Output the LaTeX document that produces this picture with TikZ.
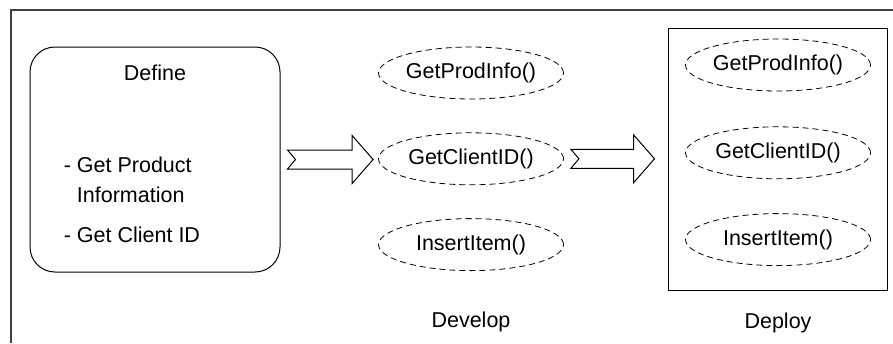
\documentclass[tikz,border=0pt]{standalone}
\usepackage{fontspec}
\setmainfont{Liberation Sans}
\usetikzlibrary{positioning,calc,shapes.geometric}

% hollow block arrow with a notched tail, from #1 to #2
\newcommand{\fatarrow}[2]{%
  \draw[fat] let \p1=(#1), \p2=(#2) in
    (\x1,\y1+9.5) -- (\x2-21,\y1+9.5) -- (\x2-21,\y1+24) -- (\x2,\y1)
    -- (\x2-21,\y1-24) -- (\x2-21,\y1-9.5) -- (\x1,\y1-9.5) -- (\x1+8,\y1) -- cycle;}

\begin{document}
\begin{tikzpicture}[
  x=1pt, y=-1pt,
  font=\fontsize{21.5}{30}\selectfont,
  line width=1pt,
  phase/.style={draw, rounded corners=25pt, minimum width=250pt, minimum height=225pt},
  func/.style={draw, ellipse, dash pattern=on 6pt off 4pt, line width=0.8pt,
               minimum width=185pt, minimum height=52pt, inner sep=0pt},
  env/.style={draw, minimum width=219pt, minimum height=262pt},
  fat/.style={line width=1pt, line join=miter, fill=white}
]
\useasboundingbox (0,0) rectangle (893,343);
\draw[black!75, line width=1.2pt] (11,343) -- (11,10) -- (893,10);

% define phase
\node[phase] (define) at (155,159.5) {};
\node (deft) at (155,73) {Define};
\node[anchor=west, align=left] (items) at (60,200)
  {- Get Product\\\phantom{- }Information\\[10pt]- Get Client ID};

% develop phase
\node[func] (gp1) at (471,73) {GetProdInfo()};
\node[func, below=33pt of gp1] (gc1) {GetClientID()};
\node[func, below=33pt of gc1] (ii1) {InsertItem()};
\node (dev) at (471,322) {Develop};

% deploy phase
\node[env] (depbox) at (777.5,159) {};
\node[func] (gp2) at (778,65) {GetProdInfo()};
\node[func, below=35pt of gp2] (gc2) {GetClientID()};
\node[func, below=34pt of gc2] (ii2) {InsertItem()};
\node (dep) at (778,323) {Deploy};

\coordinate (a1s) at ($(define.east)+(7,0)$);
\coordinate (a1e) at ($(gc1.west)+(-5,0)$);
\coordinate (a2s) at ($(gc1.east)+(7,0)$);
\coordinate (a2e) at ($(gc1.east -| depbox.west)+(-13,0)$);
\fatarrow{a1s}{a1e}
\fatarrow{a2s}{a2e}
\end{tikzpicture}
\end{document}
